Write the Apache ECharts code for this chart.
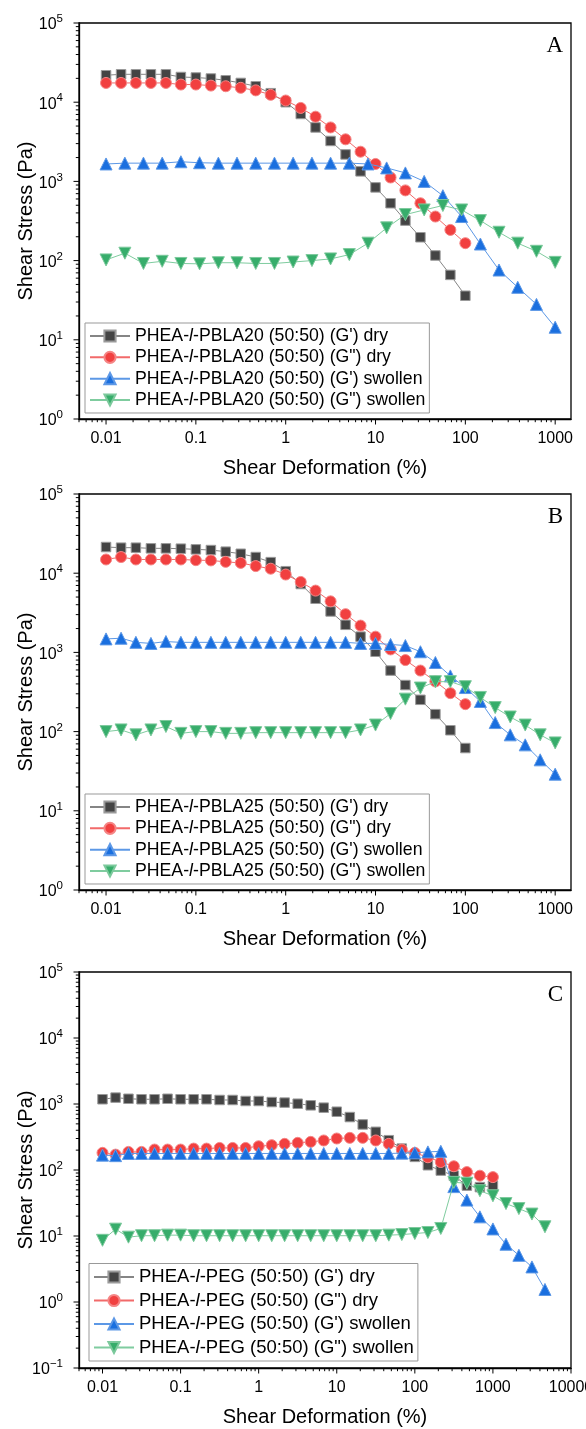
<!DOCTYPE html>
<html><head><meta charset="utf-8">
<script src="https://cdn.jsdelivr.net/npm/echarts@6/dist/echarts.min.js"></script>
<style>html,body{margin:0;padding:0;background:#fff}#c{width:586px;height:1429px}</style>
</head><body><div id="c"></div>
<script>
// ---- sampling points (shear deformation, %) ----
const x6 = [0.01,0.0147,0.0215,0.0316,0.0464,0.0681,0.1,0.147,0.215,0.316,0.464,0.681,1,1.47,2.15,3.16,4.64,6.81,10,14.7,21.5,31.6,46.4,68.1,100,147,215,316,464,681,1000,1470,2150,3160,4640];
const xA_dry = x6.slice(0,25);
const xA_sw  = [0.01,0.0162,0.0261,0.0422,0.0681,0.110,0.178,0.287,0.464,0.750,1.21,1.96,3.16,5.11,8.25,13.3,21.5,34.8,56.2,90.9,147,237,383,619,1000];
const xB_dry = x6.slice(0,25);
const xB_sw  = x6.slice(0,31);
const xC_dry = x6.slice(0,31);
const xC_sw  = x6.slice(0,35);

// ---- panel A : PHEA-l-PBLA20 ----
const A_Gp_dry  = [21900,22500,22500,22500,22500,20800,20500,19900,18900,17500,15900,13000,10000,7100,4800,3240,2190,1340,840,530,320,197,116,66,36];
const A_Gpp_dry = [17500,17500,17500,17500,17500,16700,16700,16200,15900,15200,14100,12400,10500,8470,6560,4800,3400,2370,1660,1120,770,530,360,244,166];
const A_Gp_sw   = [1660,1700,1700,1700,1770,1720,1700,1700,1700,1700,1700,1700,1700,1700,1660,1480,1280,1000,660,360,162,76,46,28,14.4];
const A_Gpp_sw  = [102,124,92,98,92,91,94,94,92,92,96,100,105,119,166,259,381,436,496,436,320,228,166,131,95];

// ---- panel B : PHEA-l-PBLA25 ----
const B_Gp_dry  = [21400,21000,21000,20600,20600,20400,20000,19600,18700,17600,16000,13800,10600,7300,4760,3290,2230,1580,1020,590,387,252,166,104,62];
const B_Gpp_dry = [14900,16000,14900,14900,14900,14900,14600,14500,13900,13500,12300,11400,9620,7760,6030,4410,3040,2180,1580,1090,800,590,430,306,222];
const B_Gp_sw   = [1480,1510,1340,1300,1370,1340,1340,1340,1340,1340,1340,1340,1340,1340,1340,1340,1340,1300,1300,1260,1220,1020,746,505,360,240,130,91,68,44,29];
const B_Gpp_sw  = [100,105,91,105,116,95,100,100,95,95,97,97,97,97,97,97,97,105,121,169,257,355,427,427,369,270,201,153,121,91,72];

// ---- panel C : PHEA-l-PEG ----
const C_Gp_dry  = [1180,1250,1200,1180,1180,1200,1180,1180,1180,1150,1150,1110,1110,1070,1050,1010,955,880,764,634,490,379,283,211,158,118,98,82,58,55,58];
const C_Gpp_dry = [182,171,188,188,204,204,204,211,211,216,216,216,229,238,249,258,267,280,300,307,307,280,249,204,182,156,132,114,93,82,78];
const C_Gp_sw   = [168,165,178,178,178,178,178,178,178,178,178,178,178,178,178,178,178,178,178,178,178,178,178,180,182,188,192,56,35,19.5,12.8,7.5,5.1,3.4,1.55];
const C_Gpp_sw  = [8.6,12.7,9.6,10.1,10.1,10.3,10.3,10.1,10.1,10.1,10.1,10.1,10.1,10.1,10.1,10.1,10.1,10.1,10.1,10.1,10.1,10.1,10.3,10.5,10.9,11.3,13.0,65,63,48.5,40.7,31,26,21.5,13.8];

const panels = [
  {tag:'A', mat:'PBLA20', xr:[0.005,1500], yr:[1,1e5],
   xs:[xA_dry,xA_dry,xA_sw,xA_sw], ys:[A_Gp_dry,A_Gpp_dry,A_Gp_sw,A_Gpp_sw]},
  {tag:'B', mat:'PBLA25', xr:[0.005,1500], yr:[1,1e5],
   xs:[xB_dry,xB_dry,xB_sw,xB_sw], ys:[B_Gp_dry,B_Gpp_dry,B_Gp_sw,B_Gpp_sw]},
  {tag:'C', mat:'PEG', xr:[0.005,10000], yr:[0.1,1e5],
   xs:[xC_dry,xC_dry,xC_sw,xC_sw], ys:[C_Gp_dry,C_Gpp_dry,C_Gp_sw,C_Gpp_sw]}
];
const suffix = ["(G') dry", '(G") dry', "(G') swollen", '(G") swollen'];

// layout (pixels)
const gridTops = [23, 494, 972];
const gridH = [396, 396, 396];
const legendTops = [323, 794, 1263.5];
const legendLefts = [85, 85, 89];
const legendFont = [17.7, 17.7, 18.5];
const legendGap = [3.33, 3.33, 4.5];

const styles = [
  {symbol:'rect', size:9.5, rot:0, color:'#444444', border:'#9a9a9a', line:'#858585'},
  {symbol:'circle', size:11, rot:0, color:'#F14040', border:'#f58585', line:'#f26a6a'},
  {symbol:'triangle', size:12, rot:0, color:'#1A6FDF', border:'#5d98e6', line:'#5c98e6'},
  {symbol:'triangle', size:12, rot:180, color:'#37AD6B', border:'#7cc99c', line:'#7fcc9f'}
];
const FONT = 'Liberation Sans, Arial, sans-serif';

const grid = [], xAxis = [], yAxis = [], series = [], legend = [], title = [];

function isPow10(v){ const l = Math.log10(v); return Math.abs(l - Math.round(l)) < 1e-6; }

panels.forEach((p, gi) => {
  grid.push({left:79, width:492, top:gridTops[gi], height:gridH[gi], show:true,
    borderColor:'#000', borderWidth:1.3, backgroundColor:'transparent', outerBoundsMode:'none', containLabel:false});
  xAxis.push({type:'log', gridIndex:gi, min:p.xr[0], max:p.xr[1], logBase:10,
    name:'Shear Deformation (%)', nameLocation:'middle', nameGap:39, nameMoveOverlap:false,
    nameTextStyle:{fontFamily:FONT, fontSize:20, color:'#000'},
    axisLine:{show:true, lineStyle:{color:'#000', width:1.3}},
    axisTick:{show:false}, minorTick:{show:false}, splitLine:{show:false},
    axisLabel:{show:true, margin:12, fontFamily:FONT, fontSize:16, color:'#000', hideOverlap:false,
      formatter: v => isPow10(v) ? String(+v.toPrecision(1)) : ''}
  });
  yAxis.push({type:'log', gridIndex:gi, min:p.yr[0], max:p.yr[1], logBase:10,
    name:'Shear Stress (Pa)', nameLocation:'middle', nameGap:43, nameMoveOverlap:false,
    nameTextStyle:{fontFamily:FONT, fontSize:20, color:'#000'},
    axisLine:{show:true, lineStyle:{color:'#000', width:1.3}},
    axisTick:{show:false}, minorTick:{show:false}, splitLine:{show:false},
    axisLabel:{show:true, margin:16, color:'#000', hideOverlap:false,
      formatter: v => { if(!isPow10(v)) return ''; const e = Math.round(Math.log10(v)); return '{b|10}{s|' + (e < 0 ? '\u2212' + (-e) : e) + '}'; },
      rich:{ b:{fontFamily:FONT, fontSize:16, color:'#000', lineHeight:20, verticalAlign:'bottom'},
             s:{fontFamily:FONT, fontSize:11.5, color:'#000', lineHeight:12, verticalAlign:'top'} }
    }
  });
  const names = [];
  for (let k = 0; k < 4; k++) {
    const st = styles[k];
    const name = 'PHEA-l-' + p.mat + ' (50:50) ' + suffix[k];
    names.push(name);
    series.push({type:'line', name, xAxisIndex:gi, yAxisIndex:gi,
      data: p.xs[k].map((x, i) => [x, p.ys[k][i]]),
      symbol:st.symbol, symbolSize:st.size, symbolRotate:st.rot, showAllSymbol:true,
      itemStyle:{color:st.color, borderColor:st.border, borderWidth:1, opacity:1},
      lineStyle:{color:st.line, width:1},
      emphasis:{disabled:true}, z:3+k});
  }
  legend.push({data:names, left:legendLefts[gi], top:legendTops[gi], orient:'vertical',
    padding:[4,4,4,4], itemGap:legendGap[gi], itemWidth:40, itemHeight:14,
    borderColor:'#999', borderWidth:1, backgroundColor:'#fff', selectedMode:false,
    textStyle:{fontFamily:FONT, fontSize:legendFont[gi], color:'#000', lineHeight:legendFont[gi],
      rich:{i:{fontFamily:FONT, fontSize:legendFont[gi], fontStyle:'italic', color:'#000'}}},
    formatter: n => n.replace('-l-', '-{i|l}-')
  });
  title.push({text:p.tag, right:18, top:gridTops[gi] + 23 - 11.5 - 5,
    textStyle:{fontFamily:'Liberation Serif, Times New Roman, serif', fontSize:23, fontWeight:'normal', color:'#000'}});

  // tick marks (major at decades, minor at 2..9) drawn through the axis scales
  const xt = [], yt = [];
  for (let d = -4; d <= 5; d++) for (let m = 1; m <= 9; m++) {
    const v = +(m * Math.pow(10, d)).toPrecision(3);
    if (v >= p.xr[0] * 0.9999 && v <= p.xr[1] * 1.0001) xt.push([v, p.yr[0], m === 1 ? 1 : 0]);
    if (v >= p.yr[0] * 0.9999 && v <= p.yr[1] * 1.0001) yt.push([p.xr[0], v, m === 1 ? 1 : 0]);
  }
  series.push({type:'custom', xAxisIndex:gi, yAxisIndex:gi, data:xt, clip:false, silent:true, z:10,
    renderItem:(params, api) => { const c = api.coord([api.value(0), api.value(1)]); const L = api.value(2) ? 5.5 : 3.2;
      return {type:'line', shape:{x1:c[0], y1:c[1], x2:c[0], y2:c[1] + L}, style:{stroke:'#000', lineWidth:1}}; }});
  series.push({type:'custom', xAxisIndex:gi, yAxisIndex:gi, data:yt, clip:false, silent:true, z:10,
    renderItem:(params, api) => { const c = api.coord([api.value(0), api.value(1)]); const L = api.value(2) ? 5.5 : 3.2;
      return {type:'line', shape:{x1:c[0], y1:c[1], x2:c[0] - L, y2:c[1]}, style:{stroke:'#000', lineWidth:1}}; }});
});

const chart = echarts.init(document.getElementById('c'), null, {renderer:'canvas', width:586, height:1429});
chart.setOption({backgroundColor:'#fff', animation:false, tooltip:{show:false},
  grid, xAxis, yAxis, series, legend, title});
</script></body></html>
